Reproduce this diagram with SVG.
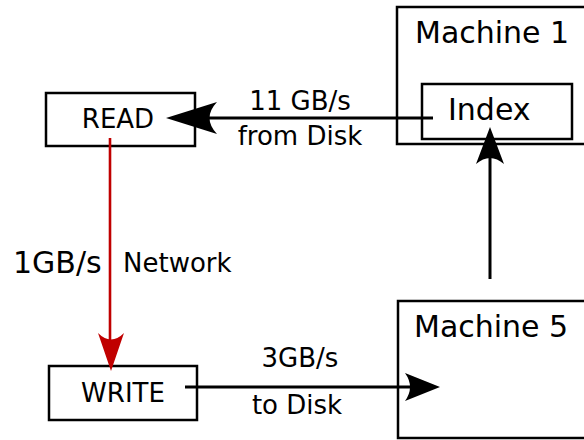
<svg xmlns="http://www.w3.org/2000/svg" width="584" height="440" viewBox="0 0 584 440">
  <style>
    .box { fill: none; stroke: #000; stroke-width: 2.5; }
    .t { font-family: "DejaVu Sans", sans-serif; fill: #000; }
    .big { font-size: 30px; }
    .lbl { font-size: 26px; }
    .wire { fill: none; stroke: #000; stroke-width: 3; }
    .net { fill: none; stroke: #c00000; stroke-width: 2.6; }
  </style>
  <rect width="584" height="440" fill="#fff"/>

  <g id="machine1">
    <rect class="box" x="397" y="7" width="200" height="137"/>
    <text class="t big" x="415" y="43">Machine 1</text>
  </g>
  <g id="index">
    <rect class="box" x="422" y="84" width="150" height="55"/>
    <text class="t big" x="448" y="120">Index</text>
  </g>
  <g id="machine5">
    <rect class="box" x="398" y="301" width="200" height="137"/>
    <text class="t big" x="414" y="337">Machine 5</text>
  </g>
  <g id="read">
    <rect class="box" x="46" y="93" width="149" height="53"/>
    <text class="t lbl" x="118" y="128" text-anchor="middle">READ</text>
  </g>
  <g id="write">
    <rect class="box" x="49" y="366" width="148" height="54"/>
    <text class="t lbl" x="123" y="402" text-anchor="middle">WRITE</text>
  </g>

  <g id="connectors">
    <!-- Index -> READ -->
    <line class="wire" x1="433" y1="118" x2="200" y2="118"/>
    <path d="M166 118 L217 102 Q202 118 217 134 Z" fill="#000"/>
    <text class="t lbl" x="300" y="110" text-anchor="middle">11 GB/s</text>
    <text class="t lbl" x="300" y="145" text-anchor="middle">from Disk</text>

    <!-- READ -> WRITE over network -->
    <line class="net" x1="110" y1="138" x2="110" y2="345"/>
    <path d="M111 371 L98 333 Q111 346 124 333 Z" fill="#c00000"/>
    <text class="t big" x="13" y="273">1GB/s</text>
    <text class="t lbl" x="123" y="272">Network</text>

    <!-- WRITE -> Machine 5 -->
    <line class="wire" x1="185" y1="387" x2="415" y2="387"/>
    <path d="M440 387 L405 373 Q415 387 405 401 Z" fill="#000"/>
    <text class="t lbl" x="300" y="367" text-anchor="middle">3GB/s</text>
    <text class="t lbl" x="297" y="414" text-anchor="middle">to Disk</text>

    <!-- Machine 5 -> Index -->
    <line class="wire" x1="490" y1="279" x2="490" y2="155"/>
    <path d="M490 127 L476 164 Q490 152 504 164 Z" fill="#000"/>
  </g>
</svg>
